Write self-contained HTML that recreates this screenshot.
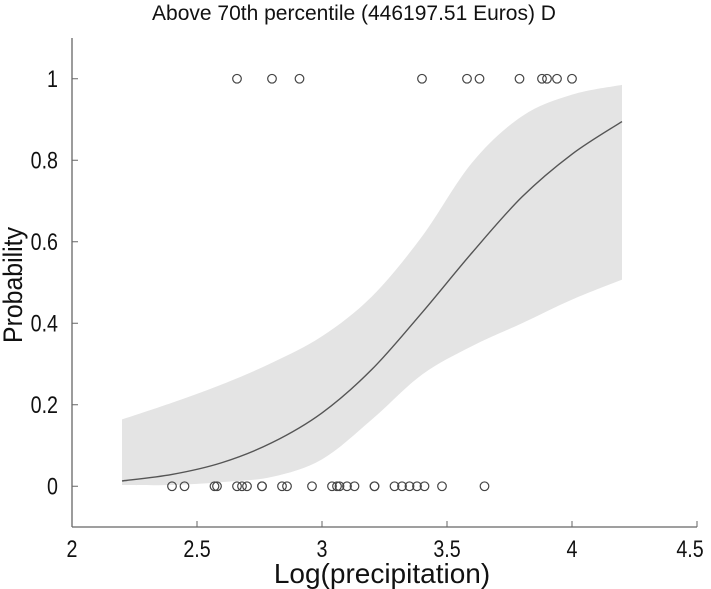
<!DOCTYPE html>
<html><head><meta charset="utf-8"><style>
html,body{margin:0;padding:0;background:#fff;}
svg{display:block;font-family:"Liberation Sans",Arial,sans-serif;}
</style></head><body>
<svg id="chart" width="711" height="589" viewBox="0 0 711 589">
<text x="354" y="20" text-anchor="middle" font-size="21" fill="#111">Above 70th percentile (446197.51 Euros) D</text>
<g id="band"></g>
<g id="curve"></g>
<g id="points"></g>
<g id="axes"></g>
<text transform="translate(22,285) rotate(-90) scale(0.92,1)" text-anchor="middle" font-size="27" fill="#111">Probability</text>
<text x="382" y="583" text-anchor="middle" font-size="28" fill="#111">Log(precipitation)</text>
</svg>
<script>
const curveX = [2.2,2.4,2.6,2.8,3.0,3.2,3.4,3.6,3.8,4.0,4.2];
const meanP = [0.013,0.029,0.058,0.107,0.18,0.287,0.426,0.573,0.71,0.815,0.895];
const upperP = [0.164,0.205,0.25,0.303,0.368,0.466,0.613,0.794,0.908,0.961,0.985];
const lowerP = [0.003,0.003,0.01,0.023,0.066,0.164,0.274,0.344,0.40,0.458,0.507];
const zeroObs = [2.40,2.45,2.57,2.58,2.66,2.68,2.70,2.76,2.76,2.84,2.86,2.96,3.04,3.06,3.07,3.10,3.13,3.21,3.21,3.29,3.32,3.35,3.38,3.41,3.48,3.65];
const oneObs = [2.66,2.80,2.91,3.40,3.58,3.63,3.79,3.88,3.90,3.94,4.00];
const xTicks = [2,2.5,3,3.5,4,4.5];
const yTicks = [0,0.2,0.4,0.6,0.8,1];
const xTickLabels = ["2","2.5","3","3.5","4","4.5"];
const yTickLabels = ["0","0.2","0.4","0.6","0.8","1"];

const NS="http://www.w3.org/2000/svg";
const X0=72, X1=697, XMIN=2, XMAX=4.5;
const Y0=527, Y1=38, YMIN=-0.1, YMAX=1.1;
function sx(v){return X0+(v-XMIN)/(XMAX-XMIN)*(X1-X0);}
function sy(v){return Y0-(v-YMIN)/(YMAX-YMIN)*(Y0-Y1);}
function mk(tag,attrs,parent){const e=document.createElementNS(NS,tag);for(const k in attrs)e.setAttribute(k,attrs[k]);parent.appendChild(e);return e;}
function spline(pts,move){
  let d=move?`M${pts[0][0]},${pts[0][1]}`:`L${pts[0][0]},${pts[0][1]}`;
  for(let i=0;i<pts.length-1;i++){
    const p0=pts[Math.max(0,i-1)],p1=pts[i],p2=pts[i+1],p3=pts[Math.min(pts.length-1,i+2)];
    const c1=[p1[0]+(p2[0]-p0[0])/6,p1[1]+(p2[1]-p0[1])/6];
    const c2=[p2[0]-(p3[0]-p1[0])/6,p2[1]-(p3[1]-p1[1])/6];
    d+=`C${c1[0]},${c1[1]} ${c2[0]},${c2[1]} ${p2[0]},${p2[1]}`;
  }
  return d;
}
const band=document.getElementById('band');
const up=curveX.map((x,i)=>[sx(x),sy(upperP[i])]);
const lo=curveX.map((x,i)=>[sx(x),sy(lowerP[i])]).reverse();
const bp=mk('path',{d:spline(up,true)+spline(lo,false)+'Z',fill:'#e4e4e4',stroke:'none'},band);


const curve=document.getElementById('curve');
const cp=mk('path',{d:spline(curveX.map((x,i)=>[sx(x),sy(meanP[i])]),true),fill:'none',stroke:'#555','stroke-width':1.4},curve);


const pts=document.getElementById('points');
zeroObs.forEach(v=>{const c=mk('circle',{cx:sx(v),cy:sy(0),r:4.3,fill:'none',stroke:'#444','stroke-width':1.2},pts);

});
oneObs.forEach(v=>{const c=mk('circle',{cx:sx(v),cy:sy(1),r:4.3,fill:'none',stroke:'#444','stroke-width':1.2},pts);

});
const ax=document.getElementById('axes');
mk('line',{x1:X0,y1:Y1,x2:X0,y2:Y0,stroke:'#666','stroke-width':1.3},ax);
mk('line',{x1:X0,y1:Y0,x2:X1,y2:Y0,stroke:'#666','stroke-width':1.3},ax);
xTicks.forEach((v,i)=>{mk('line',{x1:sx(v),y1:Y0,x2:sx(v),y2:Y0-6,stroke:'#666'},ax);
const t=mk('text',{transform:`translate(${Math.min(sx(v),690)},${Y0+30}) scale(0.82,1)`,'text-anchor':'middle','font-size':24,fill:'#111'},ax);t.textContent=xTickLabels[i];

});
yTicks.forEach((v,i)=>{mk('line',{x1:X0,y1:sy(v),x2:X0+6,y2:sy(v),stroke:'#666'},ax);
const t=mk('text',{transform:`translate(${X0-14},${sy(v)+8}) scale(0.82,1)`,'text-anchor':'end','font-size':24,fill:'#111'},ax);t.textContent=yTickLabels[i];

});
</script>
</body></html>
